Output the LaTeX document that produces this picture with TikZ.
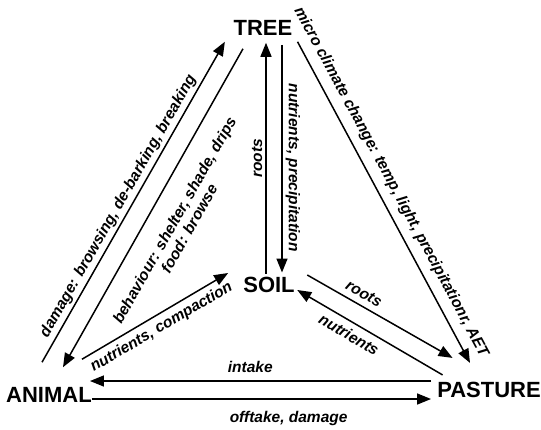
\documentclass[tikz,border=0pt]{standalone}
\usepackage{fontspec}
\setmainfont{Liberation Sans}
\usetikzlibrary{arrows.meta,calc}

\begin{document}
\begin{tikzpicture}[
  x=1pt,y=1pt,
  >={Triangle[length=14pt,width=11pt]},
  comp/.style={font=\fontsize{22}{26}\selectfont\bfseries,inner sep=0pt},
  lab/.style={font=\fontsize{15.5}{17}\selectfont\bfseries\itshape,sloped,inner sep=3pt},
  flow/.style={->,line width=1.5pt}
]
  \useasboundingbox (0,0) rectangle (541,-429);
  \node[comp] (tree) at (263,-28) {TREE};
  \node[comp] (soil) at (269,-284.5) {SOIL};
  \node[comp] (animal) at (49,-395) {ANIMAL};
  \node[comp] (pasture) at (489,-389.5) {PASTURE};

  % tree and soil
  \draw[flow] ($(soil.north)+(-3,3)$) -- ($(soil.north |- tree.south)+(-3,-7)$)
    node[lab,midway,above] {roots};
  \draw[flow] ($(soil.north |- tree.south)+(13,-9)$) -- ($(soil.north)+(13,4)$)
    node[lab,pos=0.54,above] {nutrients, precipitation};

  % tree and animal
  \draw[flow] ($(animal.north)+(-7,25)$) -- ($(tree.south west)+(-8.6,-6)$)
    node[lab,pos=0.47,above] {damage: browsing, de-barking, breaking};
  \draw[flow] ($(tree.south)+(-20,-13)$) -- ($(animal.north)+(14,20)$)
    node[lab,midway,below=15pt,align=center] {behaviour: shelter, shade, drips\\food: browse};

  % tree and pasture
  \draw[flow] ($(tree.south east)+(5,-6)$) -- ($(pasture.north)+(-19,18.6)$)
    node[lab,pos=0.46,above=5pt] {micro climate change: temp, light, precipitationr, AET};

  % soil
  \draw[flow] ($(animal.north east)+(-10,28)$) -- ($(soil.west)+(-15,11.5)$)
    node[lab,midway,below=2pt] {nutrients, compaction};
  \draw[flow] ($(soil.east)+(12.4,9.5)$) -- ($(pasture.north west)+(15.5,23.6)$)
    node[lab,pos=0.35,above=3pt] {roots};
  \draw[flow] ($(pasture.north west)+(5.5,6.6)$) -- ($(soil.east)+(2.4,-5.5)$)
    node[lab,pos=0.6,below=3pt] {nutrients};

  % animal and pasture
  \draw[flow] ($(pasture.west)+(-6,8.5)$) -- ($(pasture.west -| animal.east)+(-2,8.5)$)
    node[lab,pos=0.53,above=5pt] {intake};
  \draw[flow] ($(animal.east)+(0,-4)$) -- ($(animal.east -| pasture.west)+(-6,-4)$)
    node[lab,pos=0.58,below=9pt] {offtake, damage};
\end{tikzpicture}
\end{document}
